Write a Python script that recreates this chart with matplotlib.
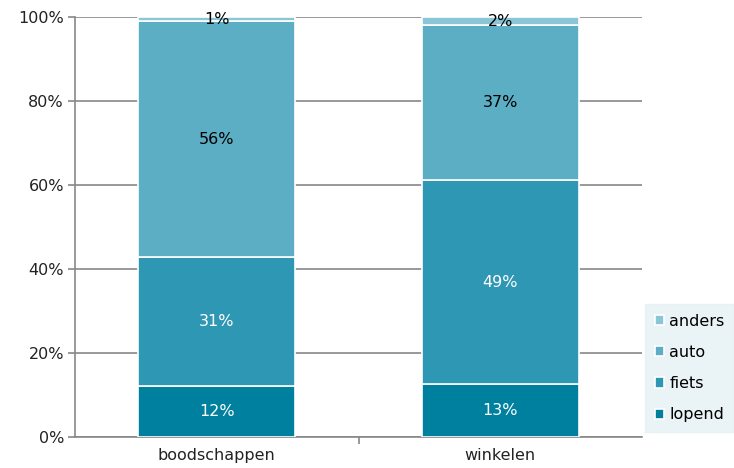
import numpy as np
import matplotlib.pyplot as plt

categories = ["boodschappen", "winkelen"]
series = ["lopend", "fiets", "auto", "anders"]
# shares (%); labels are rounded
lopend = [12.1, 12.6]
fiets = [30.8, 48.6]
auto = [56.1, 36.8]
anders = [1.0, 2.0]

colors = ["#00809f", "#2e97b4", "#5caec4", "#8bc6d6"]
text_colors = ["white", "white", "black", "black"]

plt.rcParams["font.family"] = ["Verdana", "DejaVu Sans"]

fig = plt.figure(figsize=(7.34, 4.68), dpi=100)
ax = fig.add_axes([75 / 734, 31 / 468, 567 / 734, 420 / 468])

x = np.arange(len(categories)) + 0.5
bottom = np.zeros(len(categories))
for name, vals, col, tc in zip(series, [lopend, fiets, auto, anders], colors, text_colors):
    vals = np.array(vals, dtype=float)
    ax.bar(x, vals, 0.554, bottom=bottom, color=col, edgecolor="white",
           linewidth=1.2, label=name, zorder=3)
    for xi, b, v in zip(x, bottom, vals):
        ax.text(xi, b + v / 2, f"{v:.0f}%", ha="center", va="center", color=tc,
                fontsize=11.5, zorder=4)
    bottom += vals

ax.set_xlim(0, 2)
ax.set_ylim(0, 100)
ax.set_yticks(np.arange(0, 101, 20))
ax.set_yticklabels([f"{v}%" for v in range(0, 101, 20)], fontsize=11.5, color="#222222")
ax.set_xticks([1], minor=False)
ax.set_xticklabels([""])
ax.set_xticks(x, minor=True)
ax.set_xticklabels(categories, minor=True, fontsize=11.5, color="#222222")
ax.tick_params(axis="x", which="minor", length=0, pad=8)
ax.tick_params(axis="x", which="major", length=5, color="#888888", width=1.2)
ax.tick_params(axis="y", length=5, color="#888888", width=1.2, pad=3)
ax.yaxis.grid(True, color="#888888", linewidth=1.2, zorder=0)
for s in ["top", "right"]:
    ax.spines[s].set_visible(False)
for s in ["left", "bottom"]:
    ax.spines[s].set_color("#888888")
    ax.spines[s].set_linewidth(1.2)

handles, labels = ax.get_legend_handles_labels()
leg = fig.legend(handles[::-1], labels[::-1], loc="lower right",
                 bbox_to_anchor=(1.0, 36 / 468), fontsize=11.5,
                 frameon=True, fancybox=False, handlelength=0.6, handleheight=0.6,
                 handletextpad=0.3, labelspacing=1.02, borderpad=0.6,
                 borderaxespad=0)
leg.get_frame().set_facecolor("#e5f1f4")
leg.get_frame().set_edgecolor("#e5f1f4")
for h in leg.legend_handles:
    h.set_edgecolor("white")

fig.savefig("out.png", dpi=100)
